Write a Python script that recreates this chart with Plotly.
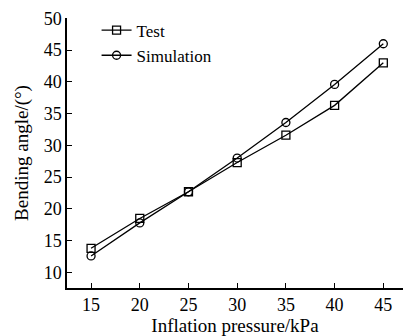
import plotly.graph_objects as go

pressure = [15, 20, 25, 30, 35, 40, 45]
test_angle = [13.8, 18.5, 22.7, 27.3, 31.6, 36.3, 43.0]
sim_angle = [12.6, 17.8, 22.7, 28.0, 33.6, 39.6, 46.0]
x_ticks = [15, 20, 25, 30, 35, 40, 45]
y_ticks = [10, 15, 20, 25, 30, 35, 40, 45, 50]

font = dict(family="Liberation Serif", size=18, color="black")
title_font = dict(family="Liberation Serif", size=19, color="black")
legend_font = dict(family="Liberation Serif", size=17, color="black")

fig = go.Figure()
fig.add_trace(go.Scatter(
    x=pressure, y=test_angle, name="Test", mode="lines+markers",
    line=dict(color="black", width=1.3),
    marker=dict(symbol="square-open", size=8, color="black", line=dict(width=1.3)),
))
fig.add_trace(go.Scatter(
    x=pressure, y=sim_angle, name="Simulation", mode="lines+markers",
    line=dict(color="black", width=1.3),
    marker=dict(symbol="circle-open", size=8, color="black", line=dict(width=1.3)),
))

fig.update_layout(
    width=403, height=336,
    margin=dict(l=67, r=0, t=18, b=48),
    paper_bgcolor="white", plot_bgcolor="white",
    font=font,
    showlegend=True,
    legend=dict(x=0.088, y=1.02, xanchor="left", yanchor="top",
                bgcolor="rgba(0,0,0,0)", font=legend_font, itemwidth=30,
                tracegroupgap=0),
)
fig.update_xaxes(
    range=[12.53, 47.02], tickvals=x_ticks, ticks="inside", ticklen=5,
    tickwidth=1.3, tickcolor="black", tickfont=font,
    showline=True, linecolor="black", linewidth=1.5, showgrid=False, zeroline=False,
    title=dict(text="Inflation pressure/kPa", font=title_font, standoff=4),
)
fig.update_yaxes(
    range=[7.55, 50.05], tickvals=y_ticks, ticks="inside", ticklen=5,
    tickwidth=1.3, tickcolor="black", tickfont=font,
    showline=True, linecolor="black", linewidth=1.5, showgrid=False, zeroline=False,
    title=dict(text="Bending angle/(°)", font=title_font, standoff=10),
)

fig.write_html("out.html")
